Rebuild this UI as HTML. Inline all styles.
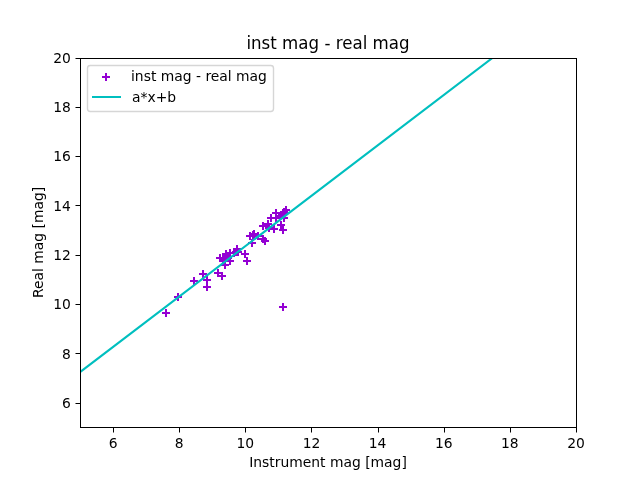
<!DOCTYPE html>
<html lang="en"><head><meta charset="utf-8"><title>inst mag - real mag</title>
<style>html,body{margin:0;padding:0;background:#fff;overflow:hidden}svg{display:block}text{font-family:'DejaVu Sans','Liberation Sans',sans-serif;fill:#000}.t{font-size:13.889px}.m rect{fill:#9400d3}</style></head><body>
<svg width="640" height="480" viewBox="0 0 640 480">
<rect width="640" height="480" fill="#fff"/>
<defs><clipPath id="c"><rect x="80" y="58" width="497" height="370"/></clipPath></defs>
<g class="m" shape-rendering="crispEdges">
<rect x="162" y="312" width="8" height="2"/><rect x="165" y="309" width="2" height="8"/>
<rect x="174" y="296" width="8" height="2"/><rect x="177" y="293" width="2" height="8"/>
<rect x="190" y="280" width="8" height="2"/><rect x="193" y="277" width="2" height="8"/>
<rect x="199" y="273" width="8" height="2"/><rect x="202" y="270" width="2" height="8"/>
<rect x="203" y="279" width="8" height="2"/><rect x="206" y="276" width="2" height="8"/>
<rect x="203" y="286" width="8" height="2"/><rect x="206" y="283" width="2" height="8"/>
<rect x="214" y="272" width="8" height="2"/><rect x="217" y="269" width="2" height="8"/>
<rect x="218" y="275" width="8" height="2"/><rect x="221" y="272" width="2" height="8"/>
<rect x="216" y="257" width="8" height="2"/><rect x="219" y="254" width="2" height="8"/>
<rect x="222" y="253" width="8" height="2"/><rect x="225" y="250" width="2" height="8"/>
<rect x="226" y="252" width="8" height="2"/><rect x="229" y="249" width="2" height="8"/>
<rect x="233" y="248" width="8" height="2"/><rect x="236" y="245" width="2" height="8"/>
<rect x="221" y="264" width="8" height="2"/><rect x="224" y="261" width="2" height="8"/>
<rect x="226" y="260" width="8" height="2"/><rect x="229" y="257" width="2" height="8"/>
<rect x="241" y="253" width="8" height="2"/><rect x="244" y="250" width="2" height="8"/>
<rect x="243" y="260" width="8" height="2"/><rect x="246" y="257" width="2" height="8"/>
<rect x="232" y="251" width="8" height="2"/><rect x="235" y="248" width="2" height="8"/>
<rect x="234" y="251" width="8" height="2"/><rect x="237" y="248" width="2" height="8"/>
<rect x="230" y="252" width="8" height="2"/><rect x="233" y="249" width="2" height="8"/>
<rect x="222" y="255" width="8" height="2"/><rect x="225" y="252" width="2" height="8"/>
<rect x="220" y="259" width="8" height="2"/><rect x="223" y="256" width="2" height="8"/>
<rect x="224" y="257" width="8" height="2"/><rect x="227" y="254" width="2" height="8"/>
<rect x="219" y="260" width="8" height="2"/><rect x="222" y="257" width="2" height="8"/>
<rect x="246" y="235" width="8" height="2"/><rect x="249" y="232" width="2" height="8"/>
<rect x="250" y="233" width="8" height="2"/><rect x="253" y="230" width="2" height="8"/>
<rect x="254" y="235" width="8" height="2"/><rect x="257" y="232" width="2" height="8"/>
<rect x="248" y="242" width="8" height="2"/><rect x="251" y="239" width="2" height="8"/>
<rect x="261" y="240" width="8" height="2"/><rect x="264" y="237" width="2" height="8"/>
<rect x="259" y="238" width="8" height="2"/><rect x="262" y="235" width="2" height="8"/>
<rect x="249" y="234" width="8" height="2"/><rect x="252" y="231" width="2" height="8"/>
<rect x="259" y="225" width="8" height="2"/><rect x="262" y="222" width="2" height="8"/>
<rect x="264" y="223" width="8" height="2"/><rect x="267" y="220" width="2" height="8"/>
<rect x="265" y="227" width="8" height="2"/><rect x="268" y="224" width="2" height="8"/>
<rect x="270" y="228" width="8" height="2"/><rect x="273" y="225" width="2" height="8"/>
<rect x="282" y="209" width="8" height="2"/><rect x="285" y="206" width="2" height="8"/>
<rect x="272" y="212" width="8" height="2"/><rect x="275" y="209" width="2" height="8"/>
<rect x="267" y="217" width="8" height="2"/><rect x="270" y="214" width="2" height="8"/>
<rect x="280" y="217" width="8" height="2"/><rect x="283" y="214" width="2" height="8"/>
<rect x="277" y="224" width="8" height="2"/><rect x="280" y="221" width="2" height="8"/>
<rect x="279" y="229" width="8" height="2"/><rect x="282" y="226" width="2" height="8"/>
<rect x="280" y="211" width="8" height="2"/><rect x="283" y="208" width="2" height="8"/>
<rect x="278" y="214" width="8" height="2"/><rect x="281" y="211" width="2" height="8"/>
<rect x="276" y="215" width="8" height="2"/><rect x="279" y="212" width="2" height="8"/>
<rect x="272" y="217" width="8" height="2"/><rect x="275" y="214" width="2" height="8"/>
<rect x="280" y="213" width="8" height="2"/><rect x="283" y="210" width="2" height="8"/>
<rect x="279" y="306" width="8" height="2"/><rect x="282" y="303" width="2" height="8"/>
</g>
<path d="M79 372.91 L578 -7.28" clip-path="url(#c)" fill="none" stroke="#00bfbf" stroke-width="2.08" stroke-linecap="square"/>
<g shape-rendering="crispEdges" fill="#000">
<rect x="80" y="58" width="1" height="370"/><rect x="576" y="58" width="1" height="370"/>
<rect x="80" y="58" width="497" height="1"/><rect x="80" y="427" width="497" height="1"/>
<rect x="113" y="428" width="1" height="4"/><rect x="113" y="432" width="1" height="1" fill="#7f7f7f"/>
<rect x="179" y="428" width="1" height="4"/><rect x="179" y="432" width="1" height="1" fill="#7f7f7f"/>
<rect x="245" y="428" width="1" height="4"/><rect x="245" y="432" width="1" height="1" fill="#7f7f7f"/>
<rect x="311" y="428" width="1" height="4"/><rect x="311" y="432" width="1" height="1" fill="#7f7f7f"/>
<rect x="378" y="428" width="1" height="4"/><rect x="378" y="432" width="1" height="1" fill="#7f7f7f"/>
<rect x="444" y="428" width="1" height="4"/><rect x="444" y="432" width="1" height="1" fill="#7f7f7f"/>
<rect x="510" y="428" width="1" height="4"/><rect x="510" y="432" width="1" height="1" fill="#7f7f7f"/>
<rect x="576" y="428" width="1" height="4"/><rect x="576" y="432" width="1" height="1" fill="#7f7f7f"/>
<rect x="76" y="403" width="4" height="1"/><rect x="75" y="403" width="1" height="1" fill="#7f7f7f"/>
<rect x="76" y="353" width="4" height="1"/><rect x="75" y="353" width="1" height="1" fill="#7f7f7f"/>
<rect x="76" y="304" width="4" height="1"/><rect x="75" y="304" width="1" height="1" fill="#7f7f7f"/>
<rect x="76" y="255" width="4" height="1"/><rect x="75" y="255" width="1" height="1" fill="#7f7f7f"/>
<rect x="76" y="205" width="4" height="1"/><rect x="75" y="205" width="1" height="1" fill="#7f7f7f"/>
<rect x="76" y="156" width="4" height="1"/><rect x="75" y="156" width="1" height="1" fill="#7f7f7f"/>
<rect x="76" y="107" width="4" height="1"/><rect x="75" y="107" width="1" height="1" fill="#7f7f7f"/>
<rect x="76" y="58" width="4" height="1"/><rect x="75" y="58" width="1" height="1" fill="#7f7f7f"/>
</g>
<g class="t" text-anchor="middle">
<text x="113.07" y="448.48">6</text>
<text x="179.20" y="448.48">8</text>
<text x="245.33" y="448.48">10</text>
<text x="311.47" y="448.48">12</text>
<text x="377.60" y="448.48">14</text>
<text x="443.73" y="448.48">16</text>
<text x="509.87" y="448.48">18</text>
<text x="576.00" y="448.48">20</text>
<text x="328" y="467.47">Instrument mag [mag]</text>
<text x="43.16" y="242.4" transform="rotate(-90 43.16 242.4)">Real mag [mag]</text>
</g>
<g class="t" text-anchor="end">
<text x="70.8" y="407.84">6</text>
<text x="70.8" y="358.56">8</text>
<text x="70.8" y="309.28">10</text>
<text x="70.8" y="260.00">12</text>
<text x="70.8" y="210.72">14</text>
<text x="70.8" y="161.44">16</text>
<text x="70.8" y="112.16">18</text>
<text x="70.8" y="62.88">20</text>
</g>
<text transform="translate(328 49.27) scale(1 1.1)" text-anchor="middle" font-size="16.667">inst mag - real mag</text>
<rect x="87.5" y="65.5" width="186" height="46" rx="2.78" fill="#fff" fill-opacity="0.8" stroke="#ccc" stroke-opacity="0.8" stroke-width="1.39"/>
<g class="m" shape-rendering="crispEdges"><rect x="102" y="76" width="8" height="2"/><rect x="105" y="73" width="2" height="8"/></g>
<rect x="92" y="96" width="29" height="2" fill="#00bfbf" shape-rendering="crispEdges"/>
<g class="t"><text x="131" y="80.65">inst mag - real mag</text><text x="132" y="102.04">a*x+b</text></g>
</svg></body></html>
